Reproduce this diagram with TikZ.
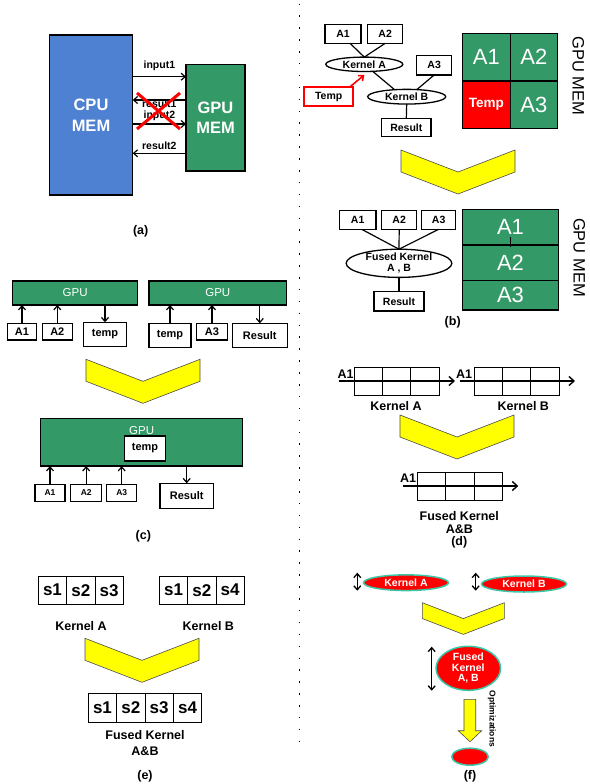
\documentclass[tikz,border=0pt]{standalone}
\usepackage{fontspec}
\setmainfont{Liberation Sans}
\definecolor{cpublue}{HTML}{4F81D3}
\definecolor{gpugreen}{HTML}{339966}
\definecolor{tempred}{HTML}{FF0000}
\definecolor{chevyellow}{HTML}{FFFF00}
\definecolor{rimteal}{HTML}{3CC8A8}
\usetikzlibrary{arrows.meta, positioning, calc, shapes.geometric}

\begin{document}
\begin{tikzpicture}[x=1pt, y=-1pt,
  every node/.style={align=center, inner sep=0pt, outer sep=0pt},
  mem/.style={draw, line width=1.3pt, text=white, font=\fontsize{16.5}{20.5}\selectfont\bfseries},
  lbl/.style={font=\fontsize{10.5}{12}\selectfont\bfseries},
  plabel/.style={font=\fontsize{12.5}{14}\selectfont\bfseries},
  box/.style={draw, line width=1.3pt, fill=white, font=\fontsize{10.5}{12}\selectfont\bfseries},
  kern/.style={ellipse, draw, line width=1.3pt, fill=white, font=\fontsize{10.5}{10.7}\selectfont\bfseries},
  cell/.style={draw, line width=1.3pt, fill=gpugreen, text=white, minimum width=47.5pt, minimum height=47.5pt,
               font=\fontsize{22}{24}\selectfont},
  col/.style={draw, line width=1.3pt, fill=gpugreen, text=white, minimum width=95.6pt, minimum height=35.7pt,
              font=\fontsize{22}{24}\selectfont},
  memlbl/.style={rotate=-90, font=\fontsize{16.5}{18}\selectfont},
  gbar/.style={draw, line width=1.3pt, fill=gpugreen, text=white, font=\fontsize{11.5}{13}\selectfont},
  cbox/.style={draw, line width=1.3pt, fill=white, font=\fontsize{11}{12}\selectfont\bfseries},
  tcell/.style={draw, line width=0.8pt, minimum width=28.43pt, minimum height=13.85pt},
  dtxt/.style={font=\fontsize{12.5}{13.6}\selectfont\bfseries},
  scell/.style={draw, line width=0.8pt, minimum width=28.35pt, minimum height=28.4pt,
                font=\fontsize{17}{19}\selectfont\bfseries},
  etxt/.style={font=\fontsize{12.5}{15.7}\selectfont\bfseries},
  rell/.style={ellipse, draw=rimteal, line width=1.5pt, fill=tempred, text=white,
               font=\fontsize{10.5}{10.5}\selectfont\bfseries},
  chev/.style={fill=chevyellow, draw=black!70, line width=0.6pt},
  ln/.style={line width=1.2pt},
  arr/.style={-{Straight Barb[length=4pt,width=7pt]}, line width=1.2pt},
  darr/.style={-{Straight Barb[length=5pt,width=9pt]}, line width=1.4pt},
  dbl/.style={{Straight Barb[length=4pt,width=7pt]}-{Straight Barb[length=4pt,width=7pt]}, line width=1.3pt},
]
  \useasboundingbox (0,0) rectangle (589,784);

  % Separator
  \draw[line width=1.5pt, dash pattern=on 1.5pt off 10.39pt] (299.7,3.55) -- (299.7,742.5);

  % (a) - CPU / GPU transfers
  \node[mem, fill=cpublue, minimum width=83.4pt, minimum height=160pt] (cpu) at (91,115) {CPU\\MEM};
  \node[mem, fill=gpugreen, minimum width=59pt, minimum height=106.7pt] (gpu) at (215.5,117.7) {GPU\\MEM};
  \draw[arr] (cpu.east |- 0,76.7) -- node[lbl, yshift=11pt] {input1} (gpu.west |- 0,76.7);
  \draw[arr] (gpu.west |- 0,100) -- node[lbl, yshift=-4pt] {result1} (cpu.east |- 0,100);
  \draw[arr] (cpu.east |- 0,124) -- node[lbl, yshift=8pt] {input2} (gpu.west |- 0,124);
  \draw[arr] (gpu.west |- 0,153.3) -- node[lbl, yshift=7.5pt] {result2} (cpu.east |- 0,153.3);
  \draw[tempred, line width=3pt] (137,93) -- (180,129) (180,93) -- (137,129);
  \node[plabel] (pa) at (140.7,231.7) {(a)};

  % (b) - kernels and GPU memory
  \node[box, minimum width=36pt, minimum height=19pt] (ba1) at (343,33.8) {A1};
  \node[box, minimum width=35pt, minimum height=19pt] (ba2) at (385.2,33.8) {A2};
  \node[box, minimum width=35pt, minimum height=19.3pt] (ba3) at (434.2,65.3) {A3};
  \node[kern, minimum width=77pt, minimum height=14.4pt] (bka) at (364.3,64.3) {Kernel A};
  \node[kern, minimum width=78pt, minimum height=14.7pt] (bkb) at (406.7,96.7) {Kernel B};
  \node[box, draw=tempred, line width=2pt, minimum width=49.3pt, minimum height=18.7pt] (btmp) at (328.7,96.7) {Temp};
  \node[box, minimum width=49.3pt, minimum height=18.4pt] (bres) at (406.3,127.5) {Result};
  \draw[ln] ([xshift=7pt]ba1.south) -- (bka.north);
  \draw[ln] (ba2.south) -- (bka.north);
  \draw[ln] (bka.-40) -- (bkb.150);
  \draw[ln] (ba3.south) -- (bkb.35);
  \draw[ln] (bkb.south) -- (bres.north);
  \draw[arr, tempred, line width=1.6pt] ([xshift=-4pt]btmp.north east) -- ([yshift=-3.5pt]bka.south);

  \node[cell] (ga1) at (486.4,57.2) {A1};
  \node[cell, right=0pt of ga1] (ga2) {A2};
  \node[cell, fill=tempred, below=0pt of ga1, font=\fontsize{13.5}{15}\selectfont\bfseries] (gtmp) {Temp};
  \node[cell, right=0pt of gtmp] (ga3) {A3};
  \node[memlbl] (gmem1) at (578.3,75.8) {GPU MEM};

  \draw[chev, shift={(401,150)}] (0,0) -- (57,22) -- (114,0) -- (114,22) -- (57,44) -- (0,22) -- cycle;

  \node[box, minimum width=36.7pt, minimum height=18.6pt] (fa1) at (357.7,220) {A1};
  \node[box, minimum width=35pt, minimum height=18.6pt] (fa2) at (399.2,220) {A2};
  \node[box, minimum width=34pt, minimum height=18.6pt] (fa3) at (438.7,220) {A3};
  \node[kern, minimum width=105.7pt, minimum height=27.7pt] (fk) at (399,263.3) {Fused Kernel\\A , B};
  \node[box, minimum width=50pt, minimum height=19.3pt] (fres) at (399,301.3) {Result};
  \draw[ln] ([xshift=4pt]fa1.south) -- (fk.north);
  \draw[ln] (fa2.south) -- (fk.north);
  \draw[ln] (fa3.south) -- (fk.north);
  \draw[ln] (fk.south) -- (fres.north);

  \node[col] (ca1) at (510.5,227.1) {A1};
  \node[col, below=0pt of ca1] (ca2) {A2};
  \node[col, minimum height=29.3pt, below=0pt of ca2] (ca3) {A3};
  \draw[ln] ([yshift=7.7pt]ca2.north) -- ([yshift=-2.3pt]ca2.north);
  \node[memlbl] (gmem2) at (579.3,257.5) {GPU MEM};
  \node[plabel] (pb) at (452.7,322.3) {(b)};

  % (c) - two launches vs one
  \node[gbar, minimum width=125pt, minimum height=24pt] (g1) at (75.2,293) {GPU};
  \node[gbar, minimum width=137.7pt, minimum height=24pt] (g2) at (217.8,293) {GPU};
  \node[cbox, minimum width=29.4pt, minimum height=16.7pt] (c1a1) at (22,331.7) {A1};
  \node[cbox, minimum width=30pt, minimum height=16.7pt] (c1a2) at (57.3,331.7) {A2};
  \node[cbox, minimum width=43.4pt, minimum height=24.4pt] (c1t) at (105,334.5) {temp};
  \node[cbox, minimum width=42pt, minimum height=24pt] (c2t) at (170,335.3) {temp};
  \node[cbox, minimum width=30.6pt, minimum height=16.7pt] (c2a3) at (212,331.7) {A3};
  \node[cbox, minimum width=55pt, minimum height=24pt] (c2r) at (259.8,335.3) {Result};
  \draw[arr] (c1a1.north) -- (c1a1.north |- g1.south);
  \draw[arr] (c1a2.north) -- (c1a2.north |- g1.south);
  \draw[arr] (g1.south -| c1t) -- (c1t.north);
  \draw[arr] (c2t.north) -- (c2t.north |- g2.south);
  \draw[arr] (c2a3.north) -- (c2a3.north |- g2.south);
  \draw[arr] (g2.south -| c2r) -- (c2r.north);

  \draw[chev, shift={(86,359.3)}] (0,0) -- (57,22) -- (114,0) -- (114,22) -- (57,44) -- (0,22) -- cycle;

  \node[gbar, minimum width=202pt, minimum height=47.7pt] (g3) at (141.7,442.2) {};
  \node[text=white, font=\fontsize{11.5}{13}\selectfont] (g3t) at (141.7,430.7) {GPU};
  \node[cbox, minimum width=41.4pt, minimum height=25pt] (c3t) at (145,448.5) {temp};
  \node[cbox, minimum width=30pt, minimum height=17.4pt, font=\fontsize{8.5}{10}\selectfont\bfseries] (c3a1) at (50,493) {A1};
  \node[cbox, minimum width=31pt, minimum height=17.4pt, font=\fontsize{8.5}{10}\selectfont\bfseries] (c3a2) at (86.2,493) {A2};
  \node[cbox, minimum width=30pt, minimum height=17.4pt, font=\fontsize{8.5}{10}\selectfont\bfseries] (c3a3) at (121.7,493) {A3};
  \node[cbox, minimum width=53.3pt, minimum height=25pt] (c3r) at (186.7,495.8) {Result};
  \draw[arr] (c3a1.north) -- (c3a1.north |- g3.south);
  \draw[arr] (c3a2.north) -- (c3a2.north |- g3.south);
  \draw[arr] (c3a3.north) -- (c3a3.north |- g3.south);
  \draw[arr] (g3.south -| c3r) -- (c3r.north);
  \node[plabel] (pc) at (143.3,536.7) {(c)};

  % (d) - data streaming through kernels
  \foreach \i in {0,1,2} {
    \node[tcell] (dA-\i-0) at (368.2+28.43*\i,374.2) {};
    \node[tcell] (dA-\i-1) at (368.2+28.43*\i,388.1) {};
    \node[tcell] (dB-\i-0) at (488.2+28.43*\i,374.2) {};
    \node[tcell] (dB-\i-1) at (488.2+28.43*\i,388.1) {};
    \node[tcell] (dF-\i-0) at (431.5+28.43*\i,479.2) {};
    \node[tcell] (dF-\i-1) at (431.5+28.43*\i,493.1) {};
  }
  \coordinate (dAs) at (339.3,381);
  \coordinate (dAe) at (455,381);
  \coordinate (dBs) at (460,381);
  \coordinate (dBe) at (575,381);
  \coordinate (dFs) at (402.7,486);
  \coordinate (dFe) at (518.3,486);
  \draw[darr] (dAs) -- (dAe);
  \draw[darr] (dBs) -- (dBe);
  \draw[darr] (dFs) -- (dFe);
  \node[dtxt, anchor=base east] (dA1) at (353.5,378.5) {A1};
  \node[dtxt, anchor=base east] (dB1) at (472,378.5) {A1};
  \node[dtxt, anchor=base east] (dF1) at (416,482) {A1};
  \node[dtxt] (dka) at (396,406) {Kernel A};
  \node[dtxt] (dkb) at (523.3,406) {Kernel B};

  \draw[chev, shift={(400,415)}] (0,0) -- (57,22) -- (114,0) -- (114,22) -- (57,44) -- (0,22) -- cycle;

  \node[dtxt] (dfk) at (459.3,522.5) {Fused Kernel\\A\&B};
  \node[plabel] (pd) at (459.3,542) {(d)};

  % (e) - shared stages
  \node[scell] (e11) at (52.5,590.2) {s1};
  \node[scell, right=0pt of e11] (e12) {s2};
  \node[scell, right=0pt of e12] (e13) {s3};
  \node[scell] (e21) at (173.5,590.2) {s1};
  \node[scell, right=0pt of e21] (e22) {s2};
  \node[scell, right=0pt of e22] (e24) {s4};
  \node[etxt] (eka) at (81,625.7) {Kernel A};
  \node[etxt] (ekb) at (208.3,625.7) {Kernel B};

  \draw[chev, shift={(85,638.3)}] (0,0) -- (57,22) -- (114,0) -- (114,22) -- (57,44) -- (0,22) -- cycle;

  \node[scell, minimum height=29pt] (ef1) at (102.5,707.8) {s1};
  \node[scell, minimum height=29pt, right=0pt of ef1] (ef2) {s2};
  \node[scell, minimum height=29pt, right=0pt of ef2] (ef3) {s3};
  \node[scell, minimum height=29pt, right=0pt of ef3] (ef4) {s4};
  \node[etxt] (efk) at (145,742.8) {Fused Kernel\\A\&B};
  \node[plabel] (pe) at (145,776) {(e)};

  % (f) - optimizations
  \node[rell, minimum width=85pt, minimum height=15.7pt] (fka) at (406,582.7) {Kernel A};
  \node[rell, minimum width=85pt, minimum height=16pt] (fkb) at (524,584) {Kernel B};
  \draw[dbl] ($(fka.west)+(-6.2,-10)$) -- ($(fka.west)+(-6.2,8)$);
  \draw[dbl] ($(fkb.west)+(-5.8,-11.3)$) -- ($(fkb.west)+(-5.8,6.7)$);

  \draw[chev, shift={(422.3,602.7)}, scale=0.72] (0,0) -- (57,22) -- (114,0) -- (114,22) -- (57,44) -- (0,22) -- cycle;

  \node[rell, minimum width=64.6pt, minimum height=44pt] (ffk) at (468.3,668.3) {Fused\\Kernel\\A, B};
  \draw[dbl] ($(ffk.west)+(-4.3,-21.6)$) -- ($(ffk.west)+(-4.3,22.4)$);
  \draw[chev] (464,699.3) -- (475.7,699.3) -- (475.7,730.7) -- (481.7,730.7) -- (470,741.7)
              -- (458.3,730.7) -- (464,730.7) -- cycle;
  \node[rotate=-90, font=\fontsize{8.5}{9}\selectfont\bfseries] (fopt) at (491.7,719) {Optimizations};
  \node[rell, minimum width=36.6pt, minimum height=17pt] (fsm) at (470,756.7) {};
  \node[plabel] (pf) at (470,776.5) {(f)};
\end{tikzpicture}
\end{document}
